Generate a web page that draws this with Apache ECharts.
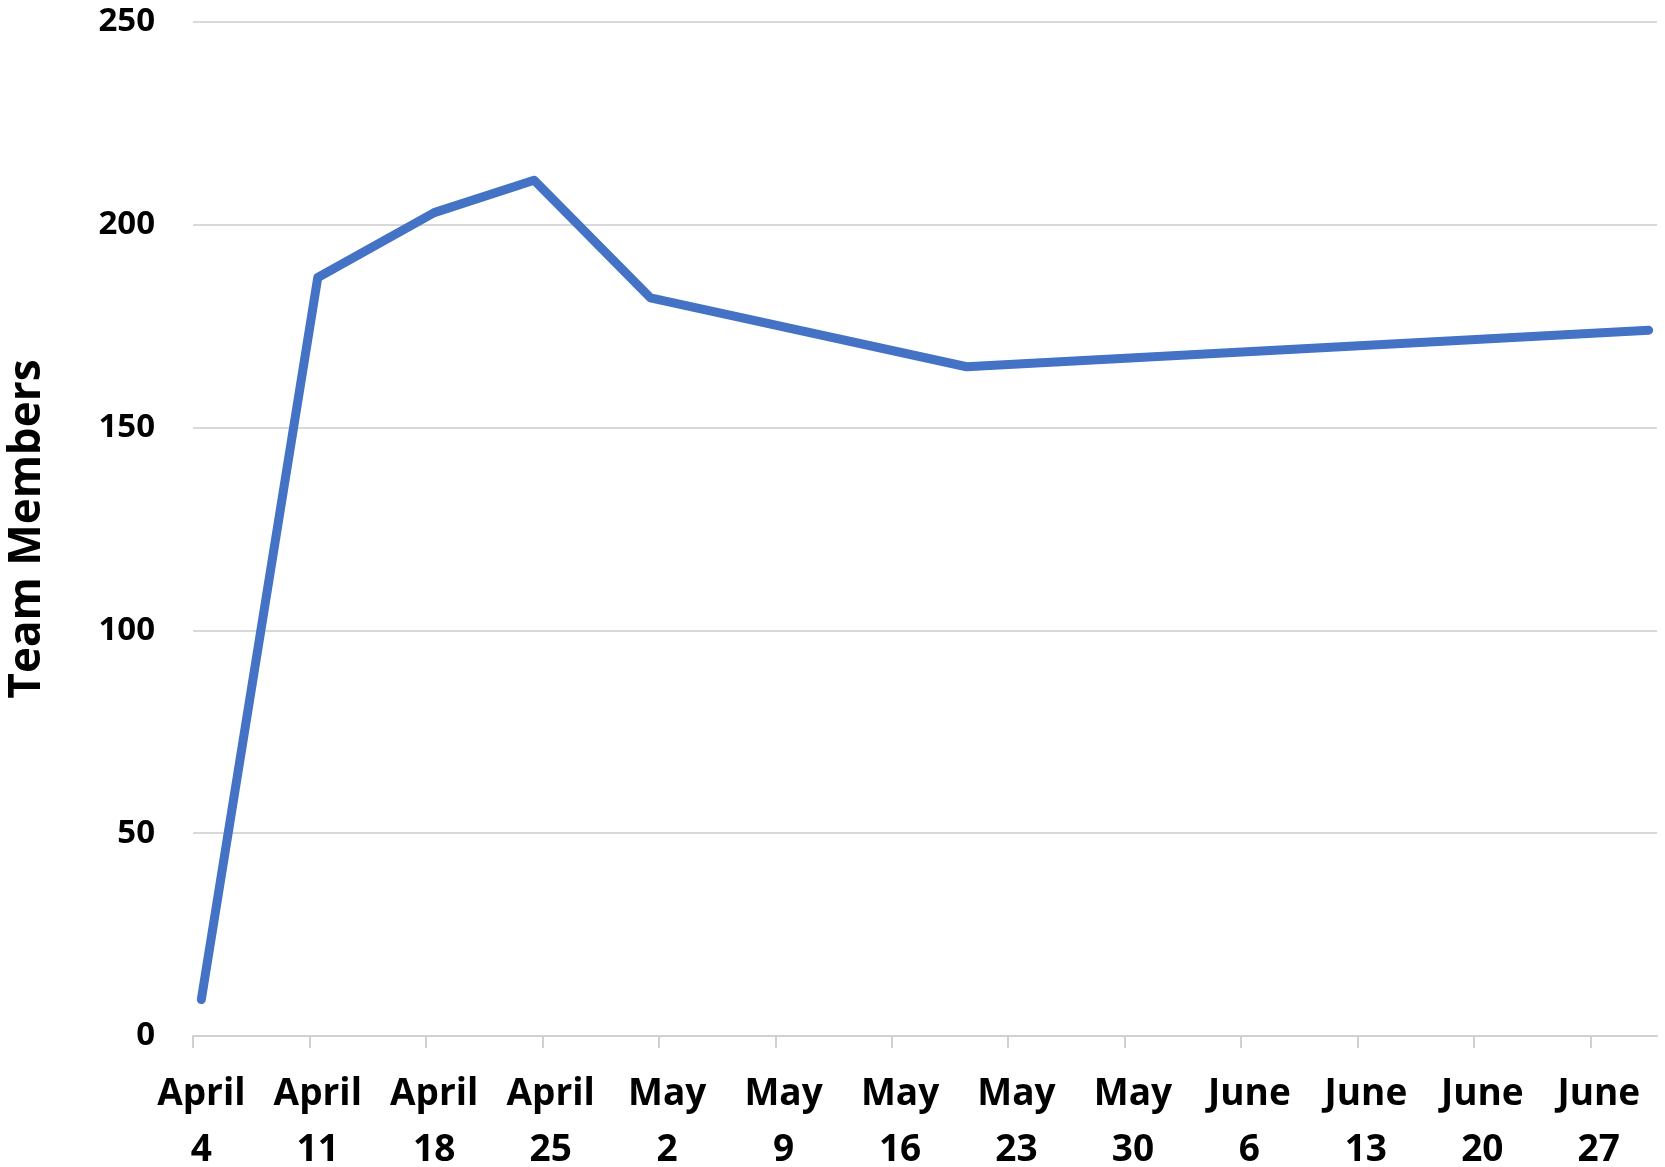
<!DOCTYPE html>
<html>
<head>
<meta charset="utf-8">
<script src="https://cdn.jsdelivr.net/npm/echarts@6/dist/echarts.min.js"></script>
<style>
  html, body { margin: 0; padding: 0; background: #fff; }
  #chart { width: 1665px; height: 1167px; }
</style>
</head>
<body>
<div id="chart"></div>
<script>
// Ma'lumotlar
var weekLabels = ["April 4", "April 11", "April 18", "April 25", "May 2", "May 9", "May 16",
  "May 23", "May 30", "June 6", "June 13", "June 20", "June 27"];
var pointDates = ["04-04", "04-11", "04-18", "04-24", "05-01", "05-20", "06-30"];
var teamMembers = [9, 187, 203, 211, 182, 165, 174];
var yTicks = [0, 50, 100, 150, 200, 250];

var DAY = 86400000;
var startDay = Date.UTC(2021, 3, 4);
var totalDays = 88; // April 4 .. July 1

// sana -> kun raqami (kun o'rtasida, Excel date axis kabi)
function dayIndex(md) {
  var p = md.split("-");
  return (Date.UTC(2021, +p[0] - 1, +p[1]) - startDay) / DAY + 0.5;
}

var seriesData = pointDates.map(function (d, i) {
  return [dayIndex(d), teamMembers[i]];
});
var tickValues = weekLabels.map(function (_, i) { return i * 7; });
var labelValues = weekLabels.map(function (_, i) { return i * 7 + 0.5; });

var font = '"Open Sans", "DejaVu Sans", sans-serif';
var chart = echarts.init(document.getElementById("chart"));

var option = {
  animation: false,
  grid: { left: 193, right: 8, top: 22, bottom: 131, outerBoundsMode: "none" },
  xAxis: {
    type: "value",
    min: 0,
    max: totalDays,
    interval: 7,
    splitLine: { show: false },
    axisLine: { lineStyle: { color: "#d0d0d0", width: 2 } },
    axisTick: {
      show: true,
      length: 12,
      customValues: tickValues,
      lineStyle: { color: "#d0d0d0", width: 2 },
    },
    axisLabel: {
      customValues: labelValues,
      margin: 30,
      color: "#000",
      fontFamily: font,
      fontWeight: "bold",
      fontSize: 37,
      lineHeight: 56,
      formatter: function (v) {
        var s = weekLabels[Math.round((v - 0.5) / 7)] || "";
        return s.replace(" ", "\n");
      },
    },
  },
  yAxis: {
    type: "value",
    min: 0,
    max: 250,
    interval: 50,
    name: "Team Members",
    nameLocation: "middle",
    nameGap: 144,
    nameTextStyle: {
      color: "#000",
      fontFamily: font,
      fontWeight: "bold",
      fontSize: 44,
    },
    axisLine: { show: false },
    axisTick: { show: false },
    axisLabel: {
      margin: 38,
      color: "#000",
      fontFamily: font,
      fontWeight: "bold",
      fontSize: 33,
      formatter: function (v) { return yTicks.indexOf(v) >= 0 ? String(v) : ""; },
    },
    splitLine: { lineStyle: { color: "#d9d9d9", width: 2 } },
  },
  series: [
    {
      name: "Team Members",
      type: "line",
      data: seriesData,
      showSymbol: false,
      lineStyle: { color: "#4472C4", width: 9, cap: "round", join: "round" },
    },
  ],
};

chart.setOption(option);
</script>
</body>
</html>
